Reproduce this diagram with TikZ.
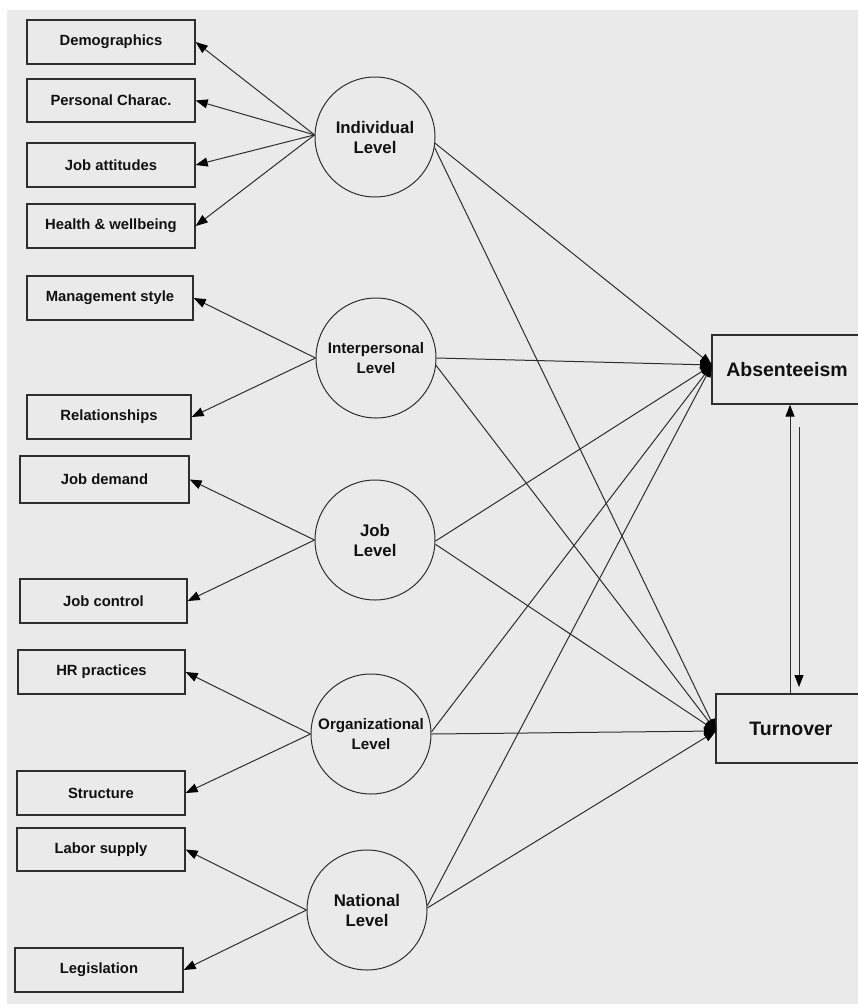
\documentclass[tikz,border=0pt]{standalone}
\usepackage{fontspec}
\setmainfont{Liberation Sans}
\usetikzlibrary{arrows.meta}
\definecolor{bg}{HTML}{EAEAEA}
\definecolor{ln}{HTML}{2E2E2E}
\definecolor{tx}{HTML}{111111}
\begin{document}
\begin{tikzpicture}[x=1pt,y=-1pt,
  lbox/.style={draw=ln, line width=1.3pt, fill=bg, text=tx, minimum width=168pt, minimum height=44pt, inner sep=0pt,
    font=\bfseries\fontsize{14.8}{17}\selectfont},
  lvl/.style={circle, draw=ln, line width=1pt, fill=bg, text=tx, minimum size=120pt, inner sep=0pt, align=center,
    font=\bfseries\fontsize{16.8}{20}\selectfont},
  lvlsm/.style={lvl, font=\bfseries\fontsize{15.2}{20}\selectfont},
  rbox/.style={draw=ln, line width=1.3pt, fill=bg, text=tx, minimum width=150pt, minimum height=69pt, inner sep=0pt,
    font=\bfseries\fontsize{19.5}{22}\selectfont},
  arr/.style={draw=ln, line width=1pt, -{Triangle[length=12pt,width=9pt,color=black]}}
]
\useasboundingbox (0,0) rectangle (858,1007);
\fill[bg] (7,10) rectangle (858,1004);

% left boxes
\node[lbox] (demo)   at (111,42)    {Demographics};
\node[lbox, minimum height=43pt] (pers) at (111,100.5) {Personal Charac.};
\node[lbox] (jatt)   at (111,165)   {Job attitudes};
\node[lbox] (health) at (111,226)   {Health \& wellbeing};
\node[lbox, minimum width=166pt] (mgmt) at (110,298) {Management style};
\node[lbox, minimum width=164pt] (rel)  at (109,417) {Relationships};
\node[lbox, minimum width=169pt, minimum height=47pt] (jdem) at (104.5,479.5) {Job demand};
\node[lbox, minimum width=167pt] (jctl) at (103.5,601) {Job control};
\node[lbox, minimum width=167pt] (hr)   at (101.5,672) {HR practices};
\node[lbox] (struct) at (101,793)   {Structure};
\node[lbox, minimum height=43pt] (labor) at (101,849.5) {Labor supply};
\node[lbox] (legis)  at (99,970)    {Legislation};

% level circles
\node[lvl]   (ind)   at (375,137) {Individual\\Level};
\node[lvlsm] (inter) at (376,358) {Interpersonal\\Level};
\node[lvl]   (job)   at (375,540) {Job\\Level};
\node[lvlsm] (org)   at (371,734) {Organizational\\Level};
\node[lvl]   (nat)   at (367,910) {National\\Level};

% outcome boxes
\node[rbox] (abs)  at (787,369.5) {Absenteeism};
\node[rbox] (turn) at (791,728.5) {Turnover};

% left arrows
\draw[arr] (ind.178) -- (demo.east);
\draw[arr] (ind.178) -- (pers.east);
\draw[arr] (ind.178) -- (jatt.east);
\draw[arr] (ind.178) -- (health.east);
\draw[arr] (inter.180) -- (mgmt.east);
\draw[arr] (inter.180) -- (rel.east);
\draw[arr] (job.180) -- (jdem.east);
\draw[arr] (job.180) -- (jctl.east);
\draw[arr] (org.180) -- (hr.east);
\draw[arr] (org.180) -- (struct.east);
\draw[arr] (nat.180) -- (labor.east);
\draw[arr] (nat.180) -- (legis.east);

% right arrows
\coordinate (absin)  at (712,365);
\coordinate (turnin) at (716,731);
\draw[arr] (ind.-6)   -- (absin);
\draw[arr] (ind.-10)  -- (turnin);
\draw[arr] (inter.0)  -- (absin);
\draw[arr] (inter.-7) -- (turnin);
\draw[arr] (job.-1)   -- (absin);
\draw[arr] (job.-4)   -- (turnin);
\draw[arr] (org.2)    -- (absin);
\draw[arr] (org.0)    -- (turnin);
\draw[arr] (nat.4)    -- (absin);
\draw[arr] (nat.2)    -- (turnin);

% feedback arrows
\coordinate (upx) at (790,0);
\draw[arr] (turn.north -| upx) -- (abs.south -| upx);
\coordinate (dtop) at (799,427);
\coordinate (dbot) at (799,687);
\draw[arr] (dtop) -- (dbot);
\end{tikzpicture}
\end{document}
